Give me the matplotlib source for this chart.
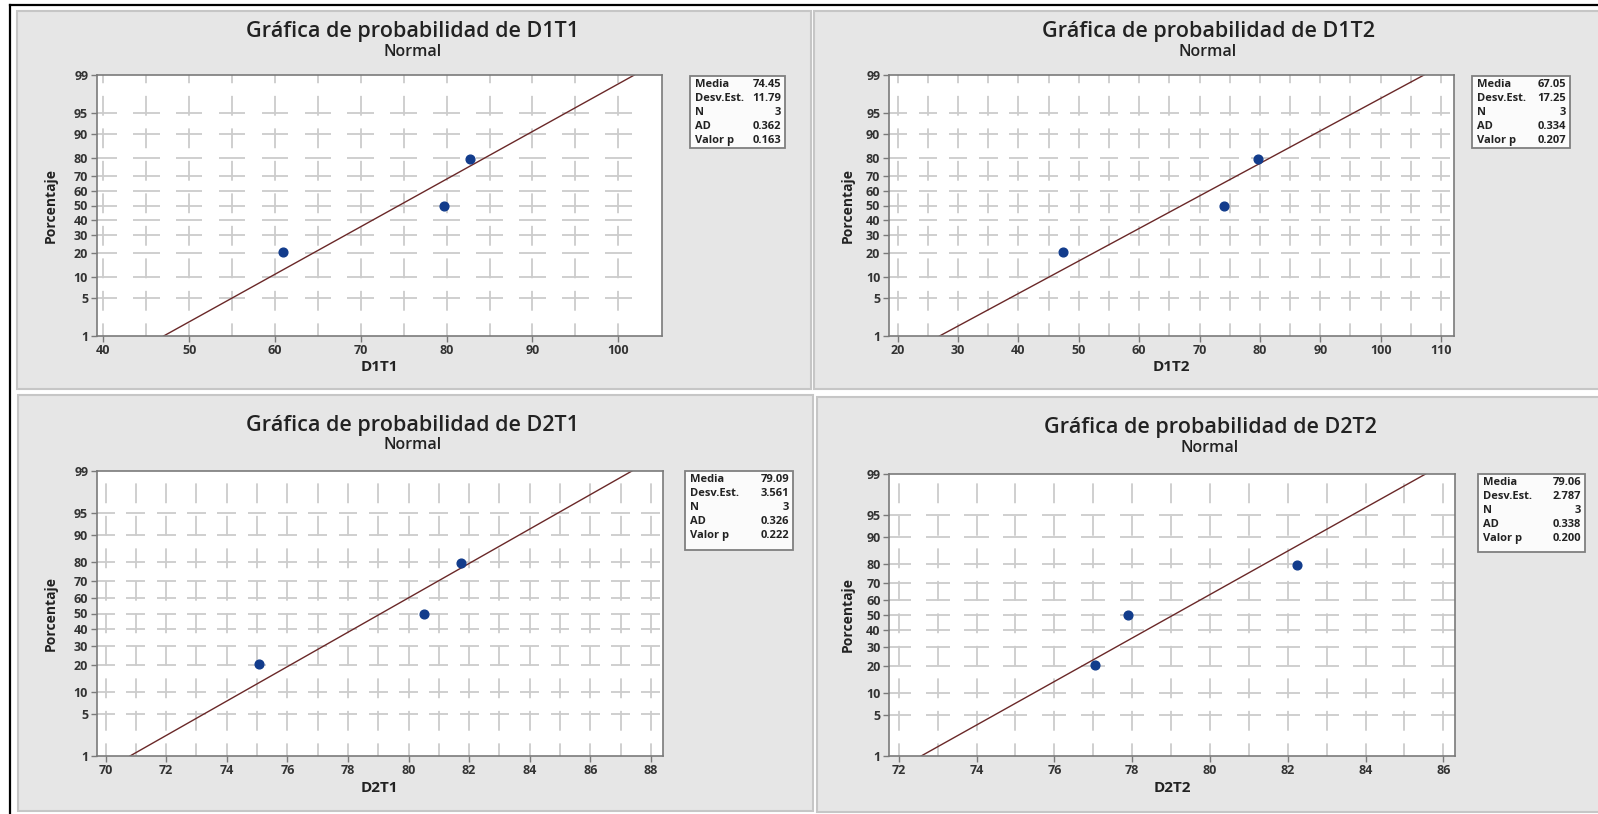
import statistics
import numpy as np
import matplotlib
matplotlib.use('Agg')
import matplotlib.pyplot as plt
from matplotlib.patches import Rectangle
from matplotlib.lines import Line2D

plt.rcParams['font.family'] = ['Open Sans', 'DejaVu Sans']

#%% 데이터
var_names = ['D1T1', 'D1T2', 'D2T1', 'D2T2']
D1T1 = [60.95, 79.7, 82.7]
D1T2 = [47.4, 74.0, 79.75]
D2T1 = [75.05, 80.5, 81.72]
D2T2 = [77.05, 77.9, 82.23]
pct_points = [20.6, 50.0, 79.4]

# 통계 박스
media = ['74.45', '67.05', '79.09', '79.06']
desv_est = ['11.79', '17.25', '3.561', '2.787']
n_obs = ['3', '3', '3', '3']
ad_stat = ['0.362', '0.334', '0.326', '0.338']
valor_p = ['0.163', '0.207', '0.222', '0.200']

x_ticks = [[40, 50, 60, 70, 80, 90, 100],
           [20, 30, 40, 50, 60, 70, 80, 90, 100, 110],
           [70, 72, 74, 76, 78, 80, 82, 84, 86, 88],
           [72, 74, 76, 78, 80, 82, 84, 86]]
x_lims = [(39.2, 105.1), (18.48, 112.15), (69.7, 88.4), (71.75, 86.3)]
y_pct_ticks = [1, 5, 10, 20, 30, 40, 50, 60, 70, 80, 90, 95, 99]

#%% 레이아웃 (픽셀)
W, H = 1598, 814
panel_px = [(17, 11, 811, 389), (814, 11, 1603, 389), (18, 395, 813, 811), (817, 397, 1603, 812)]
axes_px = [(96.5, 75, 662, 336), (888.6, 75, 1454, 336), (96.5, 471, 663, 756), (889, 474, 1455, 756)]
box_px = [(690, 76, 785, 148), (1472, 76, 1570, 148), (685, 471, 793, 550), (1478, 474, 1585, 552)]
title_px = [(413, 32, 52), (1208, 32, 52), (413, 425, 445), (1210, 427, 448)]
xlabel_y = [367, 367, 788, 788]
ylabel_x = [51, 848, 51, 848]

def fx(px):
    return px / W

def fy(py):
    return 1 - py / H

z = statistics.NormalDist().inv_cdf
z_lo, z_hi = z(0.01), z(0.99)

fig = plt.figure(figsize=(W / 100, H / 100), dpi=100)
fig.patch.set_facecolor('white')

# 패널 배경
for (l, t, r, b) in panel_px:
    fig.patches.append(Rectangle((fx(l), fy(b)), fx(r - l), (b - t) / H, transform=fig.transFigure,
                                 facecolor='#e6e6e6', edgecolor='#c6c6c6', linewidth=1.5, zorder=-5))
# 바깥 테두리
fig.add_artist(Line2D([fx(10), fx(10)], [fy(5), 0], color='black', linewidth=1.6, transform=fig.transFigure))
fig.add_artist(Line2D([fx(10), 1], [fy(5), fy(5)], color='black', linewidth=1.6, transform=fig.transFigure))

data_list = [D1T1, D1T2, D2T1, D2T2]
for i in range(4):
    l, t, r, b = axes_px[i]
    ax = fig.add_axes([fx(l), fy(b), fx(r - l), (b - t) / H])
    ax.set_zorder(2)
    ax.set_facecolor('white')
    ax.set_xlim(x_lims[i])
    ax.set_ylim(z_lo, z_hi)

    # 격자 (Minitab 스타일 끊긴 선)
    ticks = x_ticks[i]
    step = (ticks[1] - ticks[0]) / 2
    xg = np.arange(ticks[0], ticks[-1] + step / 2, step)
    ax.vlines(xg, z_lo, z_hi, colors='#cccccc', linewidth=1.3, linestyles=(4, (11, 7)), zorder=1)
    for p in y_pct_ticks[1:-1]:
        ax.hlines(np.full(len(xg), z(p / 100)), xg - 0.31 * step, xg + 0.31 * step,
                  colors='#cccccc', linewidth=1.3, zorder=1)

    # 적합선
    mu, sd = float(media[i]), float(desv_est[i])
    ax.plot([mu + sd * z_lo, mu + sd * z_hi], [z_lo, z_hi], color='#6a2828', linewidth=1.0, zorder=2)
    # 점
    ax.plot(data_list[i], [z(p / 100) for p in pct_points], 'o', color='#123c8c', markersize=6.3, zorder=3)

    ax.set_xticks(ticks)
    ax.set_xticklabels([str(v) for v in ticks])
    ax.set_yticks([z(p / 100) for p in y_pct_ticks])
    ax.set_yticklabels([str(p) for p in y_pct_ticks])
    for s in ax.spines.values():
        s.set_color('#7a7a7a')
        s.set_linewidth(1.2)
    ax.tick_params(direction='out', length=4, width=1, color='#7a7a7a', labelsize=9,
                   labelcolor='#333333', pad=2)
    for lab in ax.get_xticklabels() + ax.get_yticklabels():
        lab.set_fontweight('bold')

    # 제목, 축 이름
    tx, ty1, ty2 = title_px[i]
    fig.text(fx(tx), fy(ty1), 'Gráfica de probabilidad de ' + var_names[i], ha='center', va='center',
             fontsize=15.5, fontweight='semibold', color='#222222')
    fig.text(fx(tx), fy(ty2), 'Normal', ha='center', va='center', fontsize=11.5, fontweight='semibold',
             color='#222222')
    fig.text(fx((l + r) / 2), fy(xlabel_y[i]), var_names[i], ha='center', va='center', fontsize=11,
             fontweight='bold', color='#222222')
    fig.text(fx(ylabel_x[i]), fy((t + b) / 2), 'Porcentaje', ha='center', va='center', rotation=90,
             fontsize=10, fontweight='bold', color='#222222')

    # 통계 박스
    bl, bt, br, bb = box_px[i]
    fig.patches.append(Rectangle((fx(bl), fy(bb)), fx(br - bl), (bb - bt) / H, transform=fig.transFigure,
                                 facecolor='#fbfbfb', edgecolor='#808080', linewidth=1.3, zorder=1))
    rows = [('Media', media[i]), ('Desv.Est.', desv_est[i]), ('N', n_obs[i]),
            ('AD', ad_stat[i]), ('Valor p', valor_p[i])]
    for k, (name, val) in enumerate(rows):
        yy = bt + 8.5 + k * 14
        fig.text(fx(bl + 5), fy(yy), name, ha='left', va='center', fontsize=8, fontweight='bold',
                 color='#222222')
        fig.text(fx(br - 4), fy(yy), val, ha='right', va='center', fontsize=8, fontweight='bold',
                 color='#222222')

fig.savefig('out.png', dpi=100, facecolor='white')
